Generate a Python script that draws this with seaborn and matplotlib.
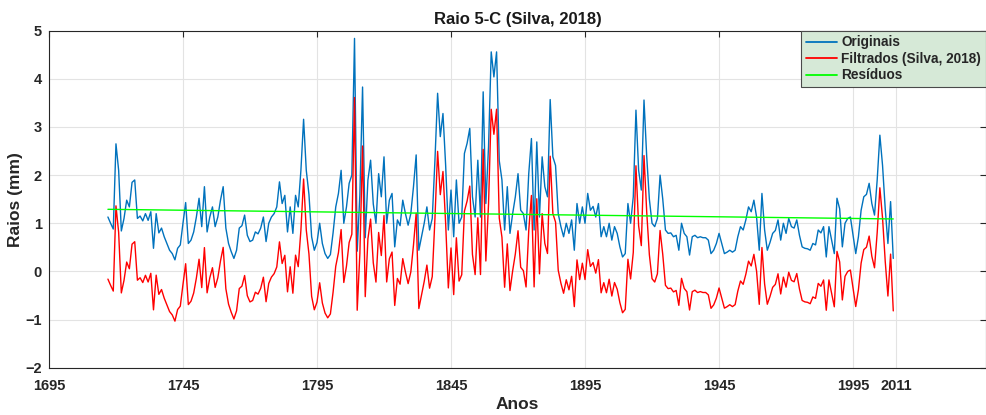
import numpy as np
import pandas as pd
import matplotlib
matplotlib.use("Agg")
import matplotlib.pyplot as plt
import seaborn as sns

# Ring radius series, one value per year (mm)
ano_inicial = 1717
originais = [
    1.13, 1.0, 0.88,                                              # 1717-1719
    2.65, 2.1, 0.84, 1.1, 1.48, 1.34, 1.85, 1.9, 1.1, 1.15,       # 1720s
    1.05, 1.2, 1.06, 1.24, 0.48, 1.2, 0.8, 0.9, 0.72, 0.58,       # 1730s
    0.44, 0.37, 0.24, 0.48, 0.55, 1.0, 1.43, 0.58, 0.65, 0.82,    # 1740s
    1.13, 1.52, 0.93, 1.76, 0.82, 1.13, 1.34, 0.93, 1.13, 1.48,   # 1750s
    1.76, 0.9, 0.58, 0.41, 0.27, 0.44, 0.9, 0.95, 1.17, 0.75,     # 1760s
    0.62, 0.65, 0.82, 0.78, 0.9, 1.13, 0.62, 1.0, 1.13, 1.2,      # 1770s
    1.34, 1.86, 1.41, 1.58, 0.82, 1.34, 0.79, 1.58, 1.34, 2.1,    # 1780s
    3.16, 2.1, 1.6, 0.72, 0.44, 0.6, 1.0, 0.58, 0.37, 0.27,       # 1790s
    0.35, 0.8, 1.34, 1.62, 2.1, 1.0, 1.34, 1.83, 2.0, 4.84,       # 1800s
    0.42, 1.6, 3.83, 0.7, 1.9, 2.31, 1.4, 1.0, 2.03, 1.55,        # 1810s
    2.38, 1.0, 1.48, 1.62, 0.51, 1.07, 0.95, 1.48, 1.2, 0.96,     # 1820s
    1.2, 1.76, 2.42, 0.44, 0.72, 1.0, 1.34, 0.86, 1.1, 2.3,       # 1830s
    3.7, 2.8, 3.28, 2.2, 0.86, 1.69, 0.72, 1.9, 1.0, 1.13,        # 1840s
    2.45, 2.66, 2.97, 1.55, 1.13, 2.31, 1.13, 3.73, 1.41, 2.59,   # 1850s
    4.56, 4.04, 4.56, 2.3, 1.9, 0.86, 1.76, 0.79, 1.2, 1.55,      # 1860s
    2.03, 1.27, 1.2, 0.86, 2.03, 2.76, 0.86, 2.69, 1.13, 2.38,    # 1870s
    1.76, 1.55, 3.57, 2.38, 2.2, 1.2, 0.93, 0.72, 1.0, 0.79,      # 1880s
    1.07, 0.44, 1.41, 1.0, 1.34, 1.0, 1.62, 1.27, 1.35, 1.13,     # 1890s
    1.41, 0.72, 0.93, 0.72, 1.0, 0.65, 0.93, 0.79, 0.51, 0.3,     # 1900s
    0.37, 1.41, 1.0, 1.55, 3.35, 2.1, 1.69, 3.56, 2.4, 1.5,       # 1910s
    1.0, 0.93, 1.1, 2.0, 1.5, 0.86, 0.79, 0.8, 0.72, 0.75,        # 1920s
    0.44, 1.0, 0.79, 0.72, 0.34, 0.72, 0.75, 0.7, 0.72, 0.7,      # 1930s
    0.7, 0.65, 0.37, 0.44, 0.58, 0.79, 0.58, 0.37, 0.4, 0.44,     # 1940s
    0.4, 0.44, 0.72, 0.93, 0.86, 1.07, 1.34, 1.24, 1.48, 1.13,    # 1950s
    0.44, 1.62, 0.86, 0.44, 0.6, 0.79, 0.85, 1.07, 0.65, 1.0,     # 1960s
    0.79, 1.1, 0.93, 0.9, 1.07, 0.75, 0.51, 0.48, 0.47, 0.44,     # 1970s
    0.58, 0.55, 0.86, 0.8, 0.93, 0.3, 0.93, 0.65, 0.37, 1.52,     # 1980s
    1.3, 0.51, 1.0, 1.1, 1.13, 0.75, 0.37, 0.72, 1.27, 1.55,      # 1990s
    1.6, 1.83, 1.41, 1.17, 1.9, 2.83, 2.2, 1.3, 0.58, 1.45,       # 2000s
    0.27,                                                         # 2010
]
anos = np.arange(ano_inicial, ano_inicial + len(originais))

# Linear residual trend, given by its end values
anos_residuos = [1717, 2010]
residuos = [1.29, 1.09]

# Filtered series = originals minus the residual trend
tendencia = np.interp(anos, anos_residuos, residuos)
filtrados = np.asarray(originais) - tendencia

x_ticks = [1695, 1745, 1795, 1845, 1895, 1945, 1995, 2011]
y_ticks = [-2, -1, 0, 1, 2, 3, 4, 5]

df = pd.concat([
    pd.DataFrame({"Ano": anos, "Raio": originais, "Série": "Originais"}),
    pd.DataFrame({"Ano": anos, "Raio": filtrados, "Série": "Filtrados (Silva, 2018)"}),
    pd.DataFrame({"Ano": anos_residuos, "Raio": residuos, "Série": "Resíduos"}),
], ignore_index=True)

sns.set_theme(style="white")
plt.rcParams["font.family"] = ["Liberation Sans", "DejaVu Sans"]

fig = plt.figure(figsize=(9.87, 4.15), dpi=100)
ax = fig.add_axes([0.0496, 0.114, 0.9494, 0.812])

cores = {"Originais": "#0072BD",
         "Filtrados (Silva, 2018)": "#FF0000",
         "Resíduos": "#00FF00"}
sns.lineplot(data=df, x="Ano", y="Raio", hue="Série", palette=cores,
             linewidth=1.0, ax=ax, legend=True, estimator=None, sort=False)

ax.set_xlim(1695, 2044.6)
ax.set_ylim(-2, 5)
ax.set_xticks(x_ticks)
ax.set_yticks(y_ticks)
ax.grid(True, color="#e3e3e3", linewidth=0.8)
ax.set_axisbelow(True)
for s in ax.spines.values():
    s.set_color("#262626")
    s.set_linewidth(0.8)
ax.tick_params(direction="in", top=True, right=True, length=4, width=0.8,
               color="#262626", labelsize=10.5)
ax.tick_params(axis="x", pad=8)
ax.tick_params(axis="y", pad=5)
for lab in ax.get_xticklabels() + ax.get_yticklabels():
    lab.set_fontweight("bold")
    lab.set_color("#262626")

ax.set_title("Raio 5-C (Silva, 2018)", fontsize=12, fontweight="bold",
             color="#1a1a1a", pad=5)
ax.set_xlabel("Anos", fontsize=12.5, fontweight="bold", color="#262626", labelpad=3)
ax.set_ylabel("Raios (mm)", fontsize=12.5, fontweight="bold", color="#262626", labelpad=2)

leg = ax.legend(loc="upper right", frameon=True, fancybox=False, framealpha=1,
                facecolor="#d6e9d7", edgecolor="#4a4a4a", borderaxespad=0,
                prop={"weight": "bold", "size": 9.8}, handlelength=2.3,
                handletextpad=0.3, labelspacing=0.18, borderpad=0.35)
leg.get_frame().set_linewidth(0.8)
for line in leg.get_lines():
    line.set_linewidth(1.3)

fig.savefig("out.png", dpi=100)
